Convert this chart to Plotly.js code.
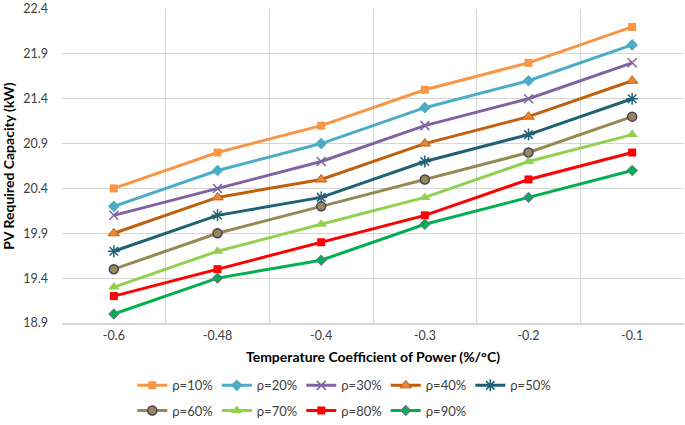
<!DOCTYPE html>
<html><head><meta charset="utf-8">
<script src="https://cdn.plot.ly/plotly-3.0.1.min.js"></script>
<style>html,body{margin:0;padding:0;background:#fff}#chart{width:685px;height:425px}</style>
</head><body><div id="chart"></div>
<script>
var categories = ["-0.6", "-0.48", "-0.4", "-0.3", "-0.2", "-0.1"];
var seriesNames = ["ρ=10%", "ρ=20%", "ρ=30%", "ρ=40%", "ρ=50%", "ρ=60%", "ρ=70%", "ρ=80%", "ρ=90%"];
var rho10 = [20.4, 20.8, 21.1, 21.5, 21.8, 22.2];
var rho20 = [20.2, 20.6, 20.9, 21.3, 21.6, 22.0];
var rho30 = [20.1, 20.4, 20.7, 21.1, 21.4, 21.8];
var rho40 = [19.9, 20.3, 20.5, 20.9, 21.2, 21.6];
var rho50 = [19.7, 20.1, 20.3, 20.7, 21.0, 21.4];
var rho60 = [19.5, 19.9, 20.2, 20.5, 20.8, 21.2];
var rho70 = [19.3, 19.7, 20.0, 20.3, 20.7, 21.0];
var rho80 = [19.2, 19.5, 19.8, 20.1, 20.5, 20.8];
var rho90 = [19.0, 19.4, 19.6, 20.0, 20.3, 20.6];
var yTicks = [18.9, 19.4, 19.9, 20.4, 20.9, 21.4, 21.9, 22.4];

var values = [rho10, rho20, rho30, rho40, rho50, rho60, rho70, rho80, rho90];
var styles = [
  {line:"#F79646", sym:"square", size:8, fill:"#F79646", ol:"#F79646", ow:0},
  {line:"#4BACC6", sym:"diamond", size:9, fill:"#4BACC6", ol:"#4BACC6", ow:0},
  {line:"#8064A2", sym:"x-thin-open", size:9, fill:"#8064A2", ol:"#8064A2", ow:1.5},
  {line:"#C0600E", sym:"triangle-up", size:10, fill:"#E8873A", ol:"#C0600E", ow:1},
  {line:"#1F6175", sym:"asterisk-open", size:10, fill:"#1F6175", ol:"#1F6175", ow:1.5},
  {line:"#948A54", sym:"circle", size:9, fill:"#948A54", ol:"#4B3A63", ow:1.5},
  {line:"#92D050", sym:"triangle-up", size:10, fill:"#92D050", ol:"#92D050", ow:0},
  {line:"#FF0000", sym:"square", size:8, fill:"#FF0000", ol:"#FF0000", ow:0},
  {line:"#00B050", sym:"diamond", size:8, fill:"#00B050", ol:"#8064A2", ow:1}
];
var traces = values.map(function(v, i){
  var s = styles[i];
  return {
    x: categories, y: v, name: seriesNames[i], type: "scatter", mode: "lines+markers",
    legend: i < 5 ? "legend" : "legend2",
    line: {color: s.line, width: 3},
    marker: {symbol: s.sym, size: s.size, color: s.fill, line: {color: s.ol, width: s.ow}}
  };
});
var font = "Lato, 'Open Sans', sans-serif";
var legendBase = {orientation: "h", xanchor: "left", yanchor: "top", entrywidth: 39.5, entrywidthmode: "pixels",
  font: {family: font, size: 13, color: "#404040"}, bgcolor: "rgba(0,0,0,0)", traceorder: "normal"};
var layout = {
  width: 685, height: 425,
  margin: {l: 62, r: 1, t: 9, b: 102, autoexpand: false},
  paper_bgcolor: "#fff", plot_bgcolor: "#fff",
  font: {family: font, size: 12, color: "#404040"},
  xaxis: {type: "category", range: [-0.5, 5.5], tickson: "boundaries", showgrid: true, gridcolor: "#D6D6D6", gridwidth: 1,
    ticks: "", showline: true, linecolor: "#D6D6D6", linewidth: 1.5, mirror: false, zeroline: false,
    tickfont: {family: font, size: 12.5, color: "#404040"},
    title: {text: "Temperature Coefficient of Power (%/°C)", font: {family: font, size: 14, color: "#000", weight: "bold"}, standoff: 10}},
  yaxis: {range: [18.9, 22.4], tickmode: "array", tickvals: yTicks, ticktext: yTicks.map(function(t){return t.toFixed(1);}),
    showgrid: true, gridcolor: "#D6D6D6", gridwidth: 1, zeroline: false, showline: false, ticks: "",
    tickfont: {family: font, size: 12.5, color: "#404040"}, ticklabelstandoff: 13,
    title: {text: "PV Required Capacity (kW)", font: {family: font, size: 14, color: "#000", weight: "bold"}, standoff: 8}},
  showlegend: true,
  legend: Object.assign({}, legendBase, {x: 0.113, y: -0.151}),
  legend2: Object.assign({}, legendBase, {x: 0.113, y: -0.231})
};
Plotly.newPlot("chart", traces, layout, {displayModeBar: false, staticPlot: true});
</script>
</body></html>
